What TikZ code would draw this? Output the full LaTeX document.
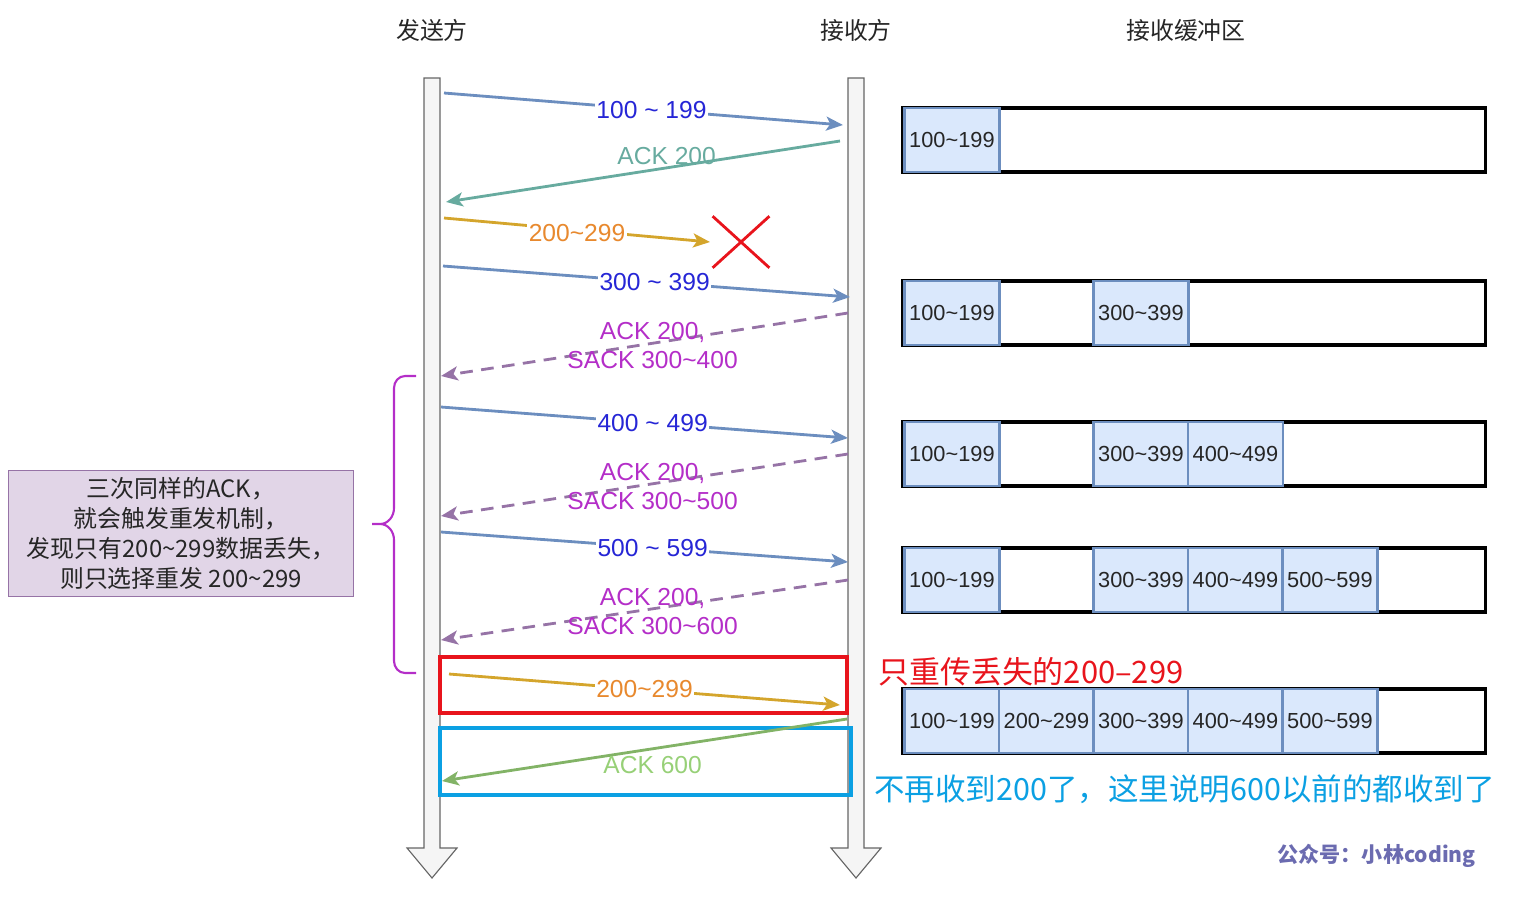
\documentclass[tikz,border=0pt]{standalone}
\usepackage{fontspec}
\setmainfont{Liberation Sans}
\newfontfamily\cjk{Noto Sans CJK SC}
\usetikzlibrary{arrows.meta,shapes.misc}

\definecolor{lifefill}{HTML}{F5F5F5}
\definecolor{lifeline}{HTML}{666666}
\definecolor{dataline}{HTML}{6C8EBF}
\definecolor{datatext}{HTML}{2626D6}
\definecolor{ackline}{HTML}{67AB9F}
\definecolor{lostline}{HTML}{D4A52C}
\definecolor{losttext}{HTML}{E8892E}
\definecolor{sackline}{HTML}{9673A6}
\definecolor{sacktext}{HTML}{B42EC8}
\definecolor{okline}{HTML}{82B366}
\definecolor{oktext}{HTML}{97D077}
\definecolor{alarm}{HTML}{E8141C}
\definecolor{sky}{HTML}{0BA0E3}
\definecolor{cellfill}{HTML}{DAE8FC}
\definecolor{notefill}{HTML}{E1D5E7}
\definecolor{mark}{HTML}{6B6BB0}

\begin{document}
\begin{tikzpicture}[x=.025cm, y=-.025cm,
  >={Stealth[length=12pt,width=10pt,inset=3pt]},
  msg/.style={->, line width=2pt},
  lbl/.style={inner sep=1pt, font=\fontsize{17.5}{20.6}\selectfont, align=center},
  head/.style={font=\cjk\fontsize{17}{20}\selectfont, text=black!85},
  buf/.style={draw=black, line width=2.2pt, minimum width=14.55cm, minimum height=1.6cm, inner sep=0pt},
  cell/.style={draw=dataline, fill=cellfill, line width=2pt, minimum width=2.375cm, minimum height=1.6cm,
    inner sep=0pt, font=\fontsize{15.5}{18}\selectfont, text=black!85}]
\useasboundingbox (0,0) rectangle (1514,904);

% lifelines
\foreach \x in {432,856}
{
   \draw[fill=lifefill, draw=lifeline, line width=.8pt] (\x-8,78)--(\x+8,78)--(\x+8,848)--(\x+25,848)
      --(\x,878)--(\x-25,848)--(\x-8,848)--cycle;
}
\node[head] (snd) at (432,30) {发送方};
\node[head] (rcv) at (856,30) {接收方};
\node[head] (rbuf) at (1186,30) {接收缓冲区};

% data segments
\foreach \n/\xa/\ya/\xb/\yb/\lo in {1/444/93/843/125/100, 3/443/266/850/297/300, 4/441/407/848/438/400, 5/441/532/848/562/500}
{
   \pgfmathtruncatemacro\hi{\lo+99}
   \coordinate (d\n s) at (\xa,\ya);
   \coordinate (d\n r) at (\xb,\yb);
   \draw[msg, dataline] (d\n s) -- node[lbl, pos=.52, fill=white, text=datatext]{\lo{} \textasciitilde{} \hi} (d\n r);
}

\coordinate (a1r) at (840,141);
\coordinate (a1s) at (446,202);
\draw[msg, ackline] (a1r) -- node[lbl, pos=.44, yshift=.3cm, text=ackline]{ACK 200} (a1s);

\coordinate (d2s) at (444,218);
\coordinate (d2x) at (710,242);
\draw[msg, lostline] (d2s) -- node[lbl, fill=white, yshift=-.08cm, text=losttext]{200\textasciitilde299} (d2x);
\node[cross out, draw=alarm, line width=2pt, minimum width=1.35cm, minimum height=1.22cm, inner sep=0pt] (lost) at (741,242) {};

% duplicate acks
\foreach \n/\ya/\yb/\hi in {1/313/376/400, 2/454/516/500, 3/580/640/600}
{
   \coordinate (s\n r) at (848,\ya);
   \coordinate (s\n s) at (441,\yb);
   \draw[msg, sackline, dash pattern=on 9pt off 6pt] (s\n r) -- node[lbl, pos=.48, yshift=-.06cm, text=sacktext]{ACK 200,\\SACK 300\textasciitilde\hi} (s\n s);
}

% retransmission
\draw[alarm, line width=2.2pt] (440,657) rectangle (847,713);
\coordinate (d6s) at (449,674);
\coordinate (d6r) at (840,705);
\draw[msg, lostline] (d6s) -- node[lbl, fill=white, text=losttext]{200\textasciitilde299} (d6r);

\draw[sky, line width=2.2pt] (440,728) rectangle (851,795);
\coordinate (a6r) at (847,719);
\coordinate (a6s) at (442,781);
\draw[msg, okline] (a6r) -- node[lbl, pos=.48, yshift=-.4cm, text=oktext]{ACK 600} (a6s);

% brace and note
\draw[sacktext, line width=1.5pt] (416,376)--(405,376) to[out=180,in=90] (394,388)--(394,508)
   to[out=-90,in=0] (380,524)--(372,524)--(380,524) to[out=0,in=90] (394,540)--(394,661)
   to[out=-90,in=180] (405,673)--(416,673);
\node[draw=sackline, fill=notefill, minimum width=8.625cm, minimum height=3.15cm, align=center,
   font=\cjk\fontsize{17}{21.3}\selectfont, text=black!85] (note) at (181,533)
   {三次同样的ACK，\\就会触发重发机制，\\发现只有200\textasciitilde299数据丢失，\\则只选择重发 200\textasciitilde299};

% receive buffer
\foreach \y/\cells [count=\r] in {140/{1}, 313/{1,3}, 454/{1,3,4}, 580/{1,3,4,5}, 721/{1,2,3,4,5}}
{
   \node[buf] (buf\r) at (1194,\y) {};
   \foreach \c in \cells
   {
      \pgfmathtruncatemacro\lo{100*\c}
      \pgfmathtruncatemacro\hi{100*\c+99}
      \node[cell, anchor=west] (cell\r-\c) at ({903+94.5*(\c-1)},\y) {\lo\textasciitilde\hi};
   }
}

\node[anchor=west, font=\cjk\fontsize{22}{26}\selectfont, text=alarm, inner sep=0pt] (resent) at (878,672) {只重传丢失的200–299};
\node[anchor=west, font=\cjk\fontsize{21.7}{26}\selectfont, text=sky, inner sep=0pt] (done) at (874,789) {不再收到200了，这里说明600以前的都收到了};
\node[anchor=east, font=\cjk\bfseries\fontsize{15}{18}\selectfont, text=mark, inner sep=0pt] (sign) at (1476,856) {公众号：小林coding};
\end{tikzpicture}
\end{document}
